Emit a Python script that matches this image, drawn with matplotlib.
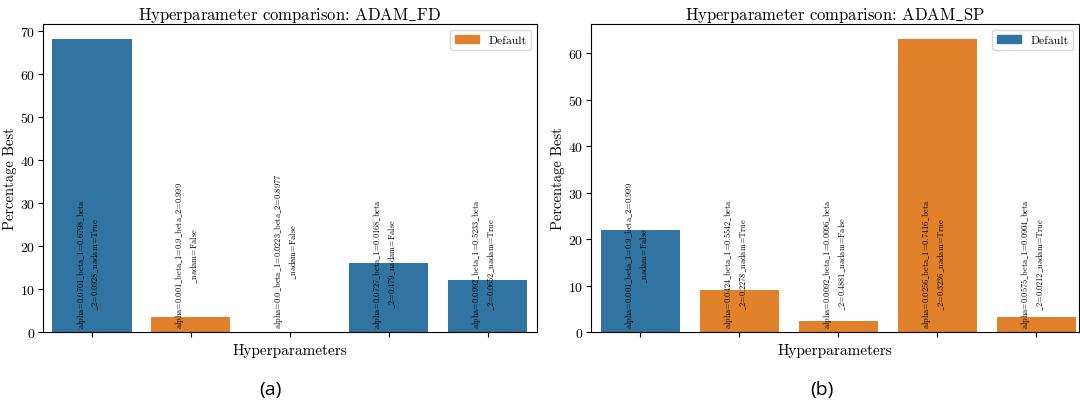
import numpy as np
import matplotlib
matplotlib.use("Agg")
import matplotlib.pyplot as plt
from matplotlib.patches import Patch

plt.rcParams['font.family'] = ['cmr10', 'DejaVu Serif']
plt.rcParams['mathtext.fontset'] = 'cm'
plt.rcParams['axes.formatter.use_mathtext'] = True

BLUE = "#3274a1"
ORANGE = "#e1812c"

# ADAM_FD
fd_labels = [
    "alpha=0.0701_beta_1=0.6798_beta\n_2=0.0928_nadam=True",
    "alpha=0.001_beta_1=0.9_beta_2=0.999\n_nadam=False",
    "alpha=0.0_beta_1=0.0223_beta_2=0.8977\n_nadam=False",
    "alpha=0.0727_beta_1=0.0168_beta\n_2=0.479_nadam=False",
    "alpha=0.0992_beta_1=0.5233_beta\n_2=0.0652_nadam=True",
]
fd_values = [68.2, 3.6, 0.0, 16.1, 12.2]
fd_colors = [BLUE, ORANGE, ORANGE, BLUE, BLUE]

# ADAM_SP
sp_labels = [
    "alpha=0.001_beta_1=0.9_beta_2=0.999\n_nadam=False",
    "alpha=0.0424_beta_1=0.5542_beta\n_2=0.2278_nadam=True",
    "alpha=0.0092_beta_1=0.0096_beta\n_2=0.4881_nadam=False",
    "alpha=0.0256_beta_1=0.7416_beta\n_2=0.3236_nadam=True",
    "alpha=0.0575_beta_1=0.0904_beta\n_2=0.0212_nadam=True",
]
sp_values = [21.9, 9.1, 2.4, 63.1, 3.3]
sp_colors = [BLUE, ORANGE, ORANGE, ORANGE, ORANGE]


def tex(s):
    # cmr10 has no real underscore glyph, take it from mathtext
    return s.replace('_', r'$\_$')


fig = plt.figure(figsize=(10.8, 4.1), dpi=100)
ax1 = fig.add_axes([42.5 / 1080, 1 - 333 / 410, 494.5 / 1080, 308 / 410])
ax2 = fig.add_axes([591 / 1080, 1 - 333 / 410, 488 / 1080, 308 / 410])


def draw(ax, labels, values, colors, title, legend_color, xmax):
    x = np.arange(len(values))
    ax.bar(x, values, width=0.8, color=colors)
    ax.set_xlim(-0.5, xmax)
    ax.set_ylim(0, max(values) * 1.05)
    ax.set_xticks(x)
    ax.set_xticklabels([])
    for i, lab in enumerate(labels):
        ax.text(i - 0.04, 0.012, tex(lab), transform=ax.get_xaxis_transform(),
                rotation=90, ha='center', va='bottom', fontsize=6,
                multialignment='center', linespacing=1.25)
    ax.set_title(tex(title), fontsize=12, pad=3)
    ax.set_xlabel("Hyperparameters", fontsize=11, labelpad=1)
    ax.set_ylabel("Percentage Best", fontsize=10.5, labelpad=2)
    ax.tick_params(axis='y', labelsize=10, pad=2)
    ax.legend(handles=[Patch(color=legend_color, label="Default")],
              loc='upper right', fontsize=8.5)


draw(ax1, fd_labels, fd_values, fd_colors, "Hyperparameter comparison: ADAM_FD", ORANGE, 4.5)
draw(ax2, sp_labels, sp_values, sp_colors, "Hyperparameter comparison: ADAM_SP", BLUE, 4.43)

fig.text(270 / 1080, 1 - 390 / 410, "(a)", fontsize=14, family='Open Sans', ha='center', va='center')
fig.text(822 / 1080, 1 - 390 / 410, "(b)", fontsize=14, family='Open Sans', ha='center', va='center')

fig.savefig("out.png", dpi=100)
